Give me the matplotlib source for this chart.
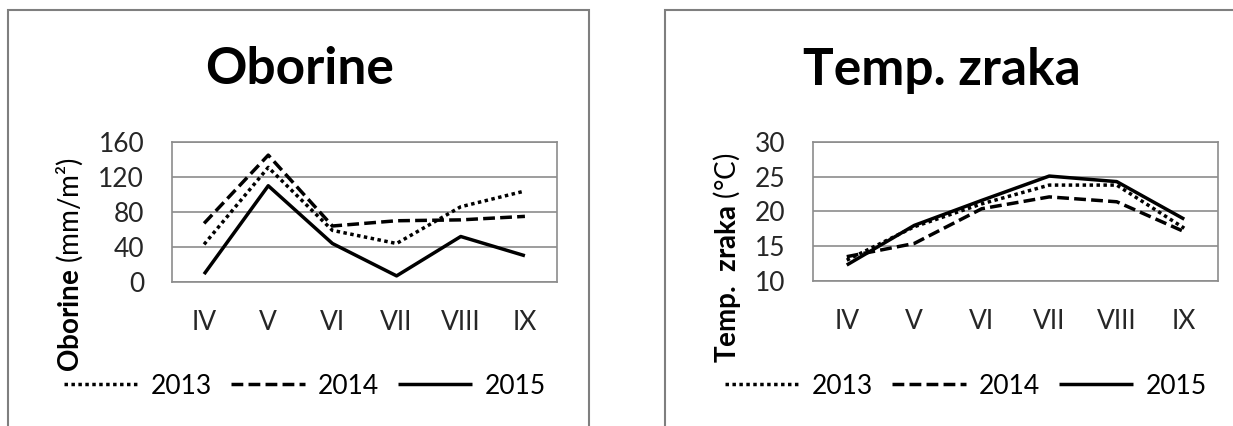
import matplotlib
matplotlib.use("Agg")
import matplotlib.pyplot as plt
from matplotlib.patches import Rectangle

plt.rcParams["font.family"] = ["Lato", "DejaVu Sans"]
plt.rcParams["mathtext.fontset"] = "custom"
plt.rcParams["mathtext.rm"] = "Lato"
plt.rcParams["mathtext.bf"] = "Lato:bold"

months = ["IV", "V", "VI", "VII", "VIII", "IX"]
years = ["2013", "2014", "2015"]

# oborine (mm/m2)
rain_2013 = [43, 131, 59, 44, 86, 104]
rain_2014 = [67, 145, 64, 70, 71, 75]
rain_2015 = [9, 110, 44, 7, 52, 30]

# temperatura zraka (C)
temp_2013 = [13.0, 17.8, 21.1, 23.8, 23.8, 17.6]
temp_2014 = [13.5, 15.4, 20.4, 22.1, 21.4, 17.1]
temp_2015 = [12.3, 18.0, 21.6, 25.1, 24.3, 18.9]

W, H = 1233, 426
fig = plt.figure(figsize=(W / 100, H / 100), dpi=100)


def px(x0, y0, x1, y1):
    return [x0 / W, 1 - y1 / H, (x1 - x0) / W, (y1 - y0) / H]


styles = [(0, (1, 1)), (0, (3.4, 1.5)), "-"]
grid_col = "#8c8c8c"

# okviri grafikona
for x0, x1 in [(8, 589), (665, 1240)]:
    fig.patches.append(Rectangle((x0 / W, -0.05), (x1 - x0) / W, 1.05 - 10 / H,
                                 transform=fig.transFigure, fill=False,
                                 edgecolor="#7f7f7f", linewidth=1.5))


def panel(box, series, yticks, title, tx, ylab, ylx, yly, legx):
    ax = fig.add_axes(box)
    x = range(len(months))
    for vals, ls, lab in zip(series, styles, years):
        ax.plot(x, vals, color="black", linestyle=ls, linewidth=2.5,
                label=lab, solid_capstyle="butt")
    ax.set_xlim(-0.5, len(months) - 0.5)
    ax.set_ylim(yticks[0], yticks[-1])
    ax.set_yticks(yticks)
    ax.set_xticks(list(x))
    ax.set_xticklabels(months)
    ax.tick_params(length=0, labelsize=19, colors="#262626")
    ax.tick_params(axis="x", pad=20)
    ax.tick_params(axis="y", pad=20)
    ax.yaxis.grid(True, color=grid_col, linewidth=1.2)
    for s in ax.spines.values():
        s.set_color(grid_col)
        s.set_linewidth(1.2)
    fig.text(tx / W, 1 - 70 / H, title, fontsize=37, fontweight="bold",
             ha="center", va="center")
    fig.text(ylx / W, 1 - yly / H, ylab, rotation=90, fontsize=20,
             ha="center", va="center")
    ax.legend(loc="center", bbox_to_anchor=(legx / W, 1 - 386 / H),
              bbox_transform=fig.transFigure, ncol=3, frameon=False,
              fontsize=19, handlelength=2.8, handletextpad=0.5,
              columnspacing=0.7, borderpad=0)
    return ax


panel(px(172, 142, 557, 282), [rain_2013, rain_2014, rain_2015],
      [0, 40, 80, 120, 160], "Oborine", 300,
      "$\\bf{Oborine}$ (mm/m²)", 70, 265, 305)
panel(px(813, 142, 1218, 281), [temp_2013, temp_2014, temp_2015],
      [10, 15, 20, 25, 30], "Temp. zraka", 942,
      "$\\bf{Temp.\\ zraka}$ (°C)", 727, 258, 966)

fig.savefig("out.png", dpi=100)
